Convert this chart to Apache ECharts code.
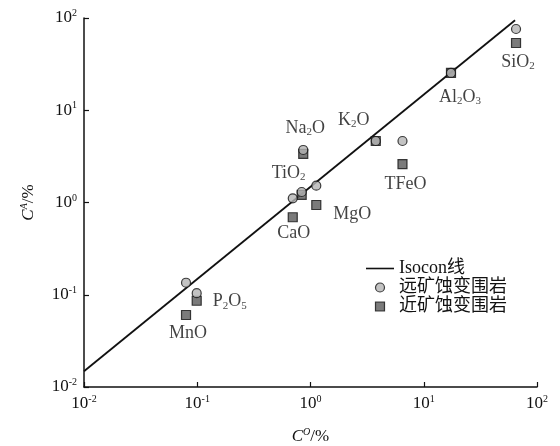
<!DOCTYPE html>
<html><head><meta charset="utf-8">
<script src="https://cdn.jsdelivr.net/npm/echarts@6/dist/echarts.min.js"></script>
<style>html,body{margin:0;padding:0;background:#fff}#c{width:560px;height:446px}</style>
</head><body><div id="c"></div>
<script>
// ---- data ----
const oxides = ['SiO2', 'Al2O3', 'K2O', 'TFeO', 'Na2O', 'TiO2', 'CaO', 'MgO', 'MnO', 'P2O5'];
const oxideRich = ['SiO{sub|2}', 'Al{sub|2}O{sub|3}', 'K{sub|2}O', 'TFeO', 'Na{sub|2}O', 'TiO{sub|2}', 'CaO', 'MgO', 'MnO', 'P{sub|2}O{sub|5}'];
const originalC = [65.3, 17.4, 3.77, 6.49, 0.863, 0.836, 0.697, 1.125, 0.0796, 0.0989];
const distalC = [76.0, 25.4, 4.64, 4.64, 3.71, 1.30, 1.11, 1.52, 0.135, 0.104];
const proximalC = [53.6, 25.4, 4.64, 2.61, 3.36, 1.21, 0.692, 0.94, 0.0603, 0.0861];
const isoconX = [0.01, 64];
const isoconY = [0.0148, 94.7];
const tickExponents = ['-2', '-1', '0', '1', '2'];
const seriesNames = ['Isocon线', '远矿蚀变围岩', '近矿蚀变围岩'];

// ---- styles (label offsets in px relative to proximal markers) ----
const labelOffsets = [[2, 19], [9, 24], [-22, -21], [3, 20], [2, -26], [-13, -22], [1, 16], [36, 9], [2, 18], [33, 1]];

const serif = "'Liberation Serif','Times New Roman',serif";
const richTick = {
  b: { fontFamily: serif, fontSize: 17, color: '#111', lineHeight: 19 },
  s: { fontFamily: serif, fontSize: 10, color: '#111', lineHeight: 10, verticalAlign: 'top' }
};
const richLabel = {
  t: { fontFamily: serif, fontSize: 18, color: '#111', lineHeight: 20 },
  sub: { fontFamily: serif, fontSize: 11, color: '#111', lineHeight: 11, verticalAlign: 'bottom' }
};
function tickFmt(v) {
  const idx = Math.round(Math.log10(v)) + 2;
  return '{b|10}{s|' + tickExponents[idx] + '}';
}
function richText(s) {
  return s.split(/(\{sub\|[^}]*\})/).filter(x => x).map(x => x.startsWith('{sub') ? x : '{t|' + x + '}').join('');
}

const chart = echarts.init(document.getElementById('c'), null, { renderer: 'canvas' });
const axisCommon = {
  type: 'log', logBase: 10, min: 0.01, max: 100,
  axisLine: { show: true, lineStyle: { color: '#111', width: 1.5 } },
  axisTick: { show: true, inside: true, length: 5, lineStyle: { color: '#111', width: 1.2 } },
  minorTick: { show: false },
  splitLine: { show: false },
  axisLabel: { formatter: tickFmt, rich: richTick, margin: 7 },
  nameLocation: 'middle'
};
const nameRich = {
  i: { fontFamily: serif, fontStyle: 'italic', fontSize: 17, color: '#111', lineHeight: 19 },
  s: { fontFamily: serif, fontStyle: 'italic', fontSize: 10, color: '#111', lineHeight: 10, verticalAlign: 'top' },
  b: { fontFamily: serif, fontSize: 17, color: '#111', lineHeight: 19 }
};
chart.setOption({
  animation: false,
  backgroundColor: '#fff',
  grid: { left: 84, right: 23, top: 18, bottom: 59, containLabel: false, outerBoundsMode: 'none' },
  xAxis: Object.assign({}, axisCommon, {
    name: '{i|C}{s|O}{b|/%}', nameGap: 40, nameTextStyle: { rich: nameRich }
  }),
  yAxis: Object.assign({}, axisCommon, {
    name: '{i|C}{s|A}{b|/%}', nameGap: 46, nameRotate: 90, nameTextStyle: { rich: nameRich }
  }),
  legend: {
    orient: 'vertical', left: 361, top: 254, itemWidth: 28, itemHeight: 9, itemGap: 0,
    textStyle: { fontFamily: "'Liberation Serif','Noto Sans CJK SC',serif", fontSize: 18, lineHeight: 19, color: '#111' },
    data: [
      { name: seriesNames[0], icon: 'path://M0,0H28V1.6H0Z', itemStyle: { color: '#111', borderWidth: 0 } },
      { name: seriesNames[1], icon: 'circle', itemStyle: { color: '#b4b4b4', borderColor: '#111', borderWidth: 1.2 } },
      { name: seriesNames[2], icon: 'path://M0,0H10V10H0Z', itemStyle: { color: '#5a5a5a', borderColor: '#111', borderWidth: 1.2 } }
    ]
  },
  series: [
    {
      name: seriesNames[0], type: 'line', symbol: 'none', z: 1,
      itemStyle: { color: '#111' },
      lineStyle: { color: '#111', width: 1.8 },
      data: isoconX.map((x, i) => [x, isoconY[i]])
    },
    {
      name: seriesNames[2], type: 'scatter', symbol: 'rect', symbolSize: 9, z: 3,
      itemStyle: { color: '#5a5a5a', borderColor: '#111', borderWidth: 1.2 },
      data: oxides.map((n, i) => ({
        name: n, value: [originalC[i], proximalC[i]],
        label: { show: true, position: 'inside', offset: labelOffsets[i], formatter: richText(oxideRich[i]), rich: richLabel }
      }))
    },
    {
      name: seriesNames[1], type: 'scatter', symbol: 'circle', symbolSize: 9, z: 4,
      itemStyle: { color: '#b4b4b4', borderColor: '#111', borderWidth: 1.2 },
      data: oxides.map((n, i) => ({ name: n, value: [originalC[i], distalC[i]] }))
    }
  ]
});
</script></body></html>
